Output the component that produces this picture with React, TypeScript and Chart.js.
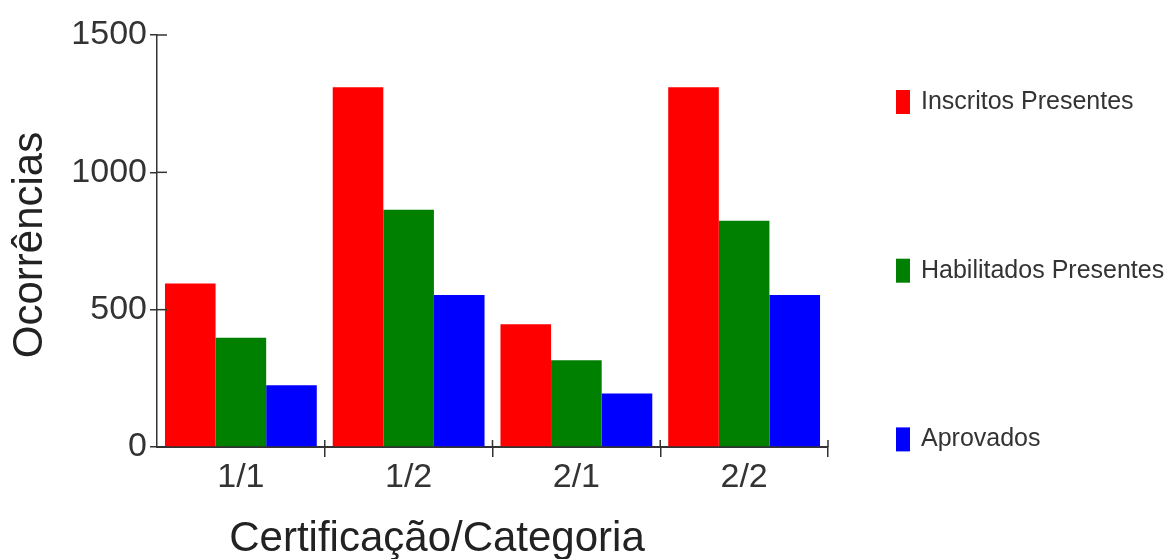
import React, { useEffect, useRef } from "react";
import { Chart, registerables } from "chart.js";

Chart.register(...registerables);

const categories = ["1/1", "1/2", "2/1", "2/2"];
const inscritosPresentes = [595, 1310, 447, 1310];
const habilitadosPresentes = [398, 864, 316, 824];
const aprovados = [225, 553, 195, 553];
const seriesLabels = ["Inscritos Presentes", "Habilitados Presentes", "Aprovados"];
const seriesColors = ["#ff0000", "#008000", "#0000ff"];
const yMin = 0;
const yMax = 1500;
const yStep = 500;
const xTitle = "Certificação/Categoria";
const yTitle = "Ocorrências";

const FONT = "'Liberation Sans', Arial, sans-serif";
const AXIS_COLOR = "#333333";
const TEXT_COLOR = "#333333";

const extrasPlugin = {
  id: "extras",
  afterDatasetsDraw(chart: any) {
    const { ctx, chartArea, scales } = chart;
    const y = scales.y;
    const x = scales.x;
    ctx.save();
    ctx.strokeStyle = AXIS_COLOR;
    ctx.lineWidth = 1.5;
    // inner part of y tick marks
    y.ticks.forEach((t: any) => {
      const py = y.getPixelForValue(t.value);
      ctx.beginPath();
      ctx.moveTo(chartArea.left, py);
      ctx.lineTo(chartArea.left + 10, py);
      ctx.stroke();
    });
    // inner part of x boundary ticks
    for (let i = 1; i <= categories.length; i++) {
      const px = x.getPixelForValue(i - 0.5);
      ctx.beginPath();
      ctx.moveTo(px, chartArea.bottom - 7);
      ctx.lineTo(px, chartArea.bottom);
      ctx.stroke();
    }
    ctx.restore();
  },
  afterDraw(chart: any) {
    const { ctx, chartArea } = chart;
    ctx.save();
    ctx.fillStyle = "#222222";
    ctx.font = `42px ${FONT}`;
    ctx.textAlign = "center";
    ctx.textBaseline = "middle";
    // x axis title
    ctx.fillText(xTitle, chartArea.left + 280, chartArea.bottom + 92);
    // y axis title
    ctx.save();
    ctx.translate(30, chartArea.top + 210);
    ctx.rotate(-Math.PI / 2);
    ctx.fillText(yTitle, 0, 0);
    ctx.restore();
    // legend
    ctx.font = `25px ${FONT}`;
    ctx.textAlign = "left";
    chart.data.datasets.forEach((ds: any, i: number) => {
      const cy = chartArea.top + 67 + i * 168.7;
      const bx = chartArea.right + 68;
      ctx.fillStyle = ds.backgroundColor;
      ctx.fillRect(bx, cy - 12, 14, 24);
      ctx.fillStyle = TEXT_COLOR;
      ctx.fillText(ds.label, bx + 25, cy);
    });
    ctx.restore();
  },
};

export default function App() {
  const canvasRef = useRef<HTMLCanvasElement | null>(null);

  useEffect(() => {
    document.body.style.margin = "0";
    const canvas = canvasRef.current;
    if (!canvas) return;
    const seriesData = [inscritosPresentes, habilitadosPresentes, aprovados];
    const chart = new Chart(canvas, {
      type: "bar",
      data: {
        labels: categories,
        datasets: seriesLabels.map((label, i) => ({
          label,
          data: seriesData[i],
          backgroundColor: seriesColors[i],
          borderWidth: 0,
          categoryPercentage: 0.905,
          barPercentage: 1.0,
        })),
      },
      options: {
        animation: false,
        responsive: false,
        devicePixelRatio: 1,
        layout: { padding: { top: 35, right: 342, bottom: 0, left: 0 } },
        plugins: {
          legend: { display: false },
          tooltip: { enabled: false },
          title: { display: false },
        },
        scales: {
          x: {
            offset: true,
            grid: {
              offset: true,
              drawOnChartArea: false,
              drawTicks: true,
              tickLength: 10,
              lineWidth: 1.5,
              color: (c: any) => (c.index === 0 ? "rgba(0,0,0,0)" : AXIS_COLOR),
            },
            border: { display: true, color: AXIS_COLOR, width: 2 },
            ticks: {
              autoSkip: false,
              maxRotation: 0,
              padding: 0,
              color: TEXT_COLOR,
              font: { family: FONT, size: 34 },
            },
            afterFit: (s: any) => {
              s.height = 112;
            },
          },
          y: {
            min: yMin,
            max: yMax,
            ticks: {
              stepSize: yStep,
              padding: 3,
              color: TEXT_COLOR,
              font: { family: FONT, size: 34 },
              callback: (v: any) => String(v),
            },
            grid: {
              drawOnChartArea: false,
              drawTicks: true,
              tickLength: 7,
              lineWidth: 1.5,
              color: AXIS_COLOR,
            },
            border: { display: true, color: AXIS_COLOR, width: 1.5 },
            title: { display: false },
            afterFit: (s: any) => {
              s.width = 157;
            },
          },
        },
      },
      plugins: [extrasPlugin],
    });
    return () => chart.destroy();
  }, []);

  return (
    <div style={{ width: 1170, height: 559, position: "relative", background: "#ffffff" }}>
      <canvas ref={canvasRef} width={1170} height={559} />
    </div>
  );
}
